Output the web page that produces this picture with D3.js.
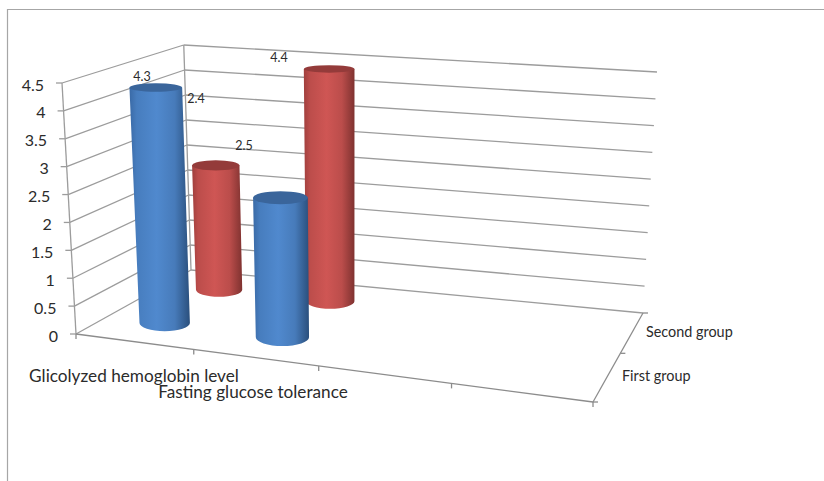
<!DOCTYPE html>
<html>
<head>
<meta charset="utf-8">
<script src="https://cdnjs.cloudflare.com/ajax/libs/d3/7.8.5/d3.min.js"></script>
<style>
  html, body { margin: 0; padding: 0; background: #fff; }
  svg { display: block; }
  text { font-family: Lato, "Open Sans", sans-serif; fill: #2b2b2b; }
</style>
</head>
<body>
<script>
var categories = ['Glicolyzed hemoglobin level', 'Fasting glucose tolerance', '', ''];
var groups = ['First group', 'Second group'];
var firstGroup = [4.3, 2.5];
var secondGroup = [2.4, 4.4];
var valueTicks = [0, 0.5, 1, 1.5, 2, 2.5, 3, 3.5, 4, 4.5];

var width = 824;
var height = 481;

// corners of the 3d box on screen: front-left, front-right, back-right, back-left
var floorQuad = [[76, 334], [593, 402], [643, 313], [191, 270]];
var topQuad = [[62, 83], [606, 135], [657, 72], [185, 45]];
// verticals all lean towards this point far under the chart
var verticalVanish = [353, 5305];
// the front edge has less perspective than the corners imply
var frontStretch = 1.107;

var xScale = d3.scaleBand().domain(d3.range(categories.length)).range([0, 1]);
var zScale = d3.scaleBand().domain(groups).range([0, 1]);
var yScale = d3.scaleLinear().domain([0, 4.5]).range([0, 1]);

function homography(q) {
  var dx1 = q[1][0] - q[2][0], dx2 = q[3][0] - q[2][0], sx = q[0][0] - q[1][0] + q[2][0] - q[3][0];
  var dy1 = q[1][1] - q[2][1], dy2 = q[3][1] - q[2][1], sy = q[0][1] - q[1][1] + q[2][1] - q[3][1];
  var den = dx1 * dy2 - dx2 * dy1;
  var g = (sx * dy2 - dx2 * sy) / den;
  var h = (dx1 * sy - sx * dy1) / den;
  return function(u, v) {
    var w = g * u + h * v + 1;
    return [
      ((q[1][0] - q[0][0] + g * q[1][0]) * u + (q[3][0] - q[0][0] + h * q[3][0]) * v + q[0][0]) / w,
      ((q[1][1] - q[0][1] + g * q[1][1]) * u + (q[3][1] - q[0][1] + h * q[3][1]) * v + q[0][1]) / w
    ];
  };
}

var floorAt = homography(floorQuad);
var topAt = homography(topQuad);

function project(u, v, value) {
  var uu = frontStretch * u / (1 + (frontStretch - 1) * u);
  var a = floorAt(uu, v);
  var b = topAt(uu, v);
  var y = a[1] + (b[1] - a[1]) * yScale(value);
  var x = verticalVanish[0] + (a[0] - verticalVanish[0]) *
    (verticalVanish[1] - y) / (verticalVanish[1] - a[1]);
  return [x, y];
}

var svg = d3.select('body').append('svg')
  .attr('width', width).attr('height', height);

// chart frame
svg.append('path')
  .attr('d', 'M7.5,481V9.5H824')
  .attr('fill', 'none').attr('stroke', '#a6a6a6').attr('stroke-width', 1.2);

var defs = svg.append('defs');
function addGradient(id, edge, mid, edge2) {
  var g = defs.append('linearGradient').attr('id', id);
  g.append('stop').attr('offset', '0%').attr('stop-color', edge);
  g.append('stop').attr('offset', '12%').attr('stop-color', d3.interpolateRgb(edge, mid)(0.6));
  g.append('stop').attr('offset', '45%').attr('stop-color', mid);
  g.append('stop').attr('offset', '75%').attr('stop-color', d3.interpolateRgb(mid, edge2)(0.25));
  g.append('stop').attr('offset', '100%').attr('stop-color', edge2);
}
addGradient('blueBar', '#3a6aa6', '#5089ce', '#2a4f7c');
addGradient('redBar', '#a03f3d', '#cf5654', '#7f3230');

function line(a, b, color) {
  svg.append('line')
    .attr('x1', a[0]).attr('y1', a[1]).attr('x2', b[0]).attr('y2', b[1])
    .attr('stroke', color || '#9c9c9c').attr('stroke-width', 1.3);
}

// walls
valueTicks.forEach(function(t) {
  var front = project(0, 0, t);
  var back = project(0, 1, t);
  var right = project(1, 1, t);
  line(front, back);
  line(back, right);
  line([front[0] - 6, front[1]], front);
  svg.append('text')
    .attr('x', front[0] - 18).attr('y', front[1] + 3.5)
    .attr('text-anchor', 'end').attr('dominant-baseline', 'middle')
    .attr('font-size', 16).text(t);
});
line(project(0, 0, 0), project(0, 0, 4.5));
line(project(0, 1, 0), project(0, 1, 4.5));

// floor edges and ticks
line(project(0, 0, 0), project(1, 0, 0), '#8c8c8c');
line(project(1, 0, 0), project(1, 1, 0), '#8c8c8c');
d3.range(categories.length + 1).forEach(function(i) {
  var p = project(i / categories.length, 0, 0);
  line(p, [p[0], p[1] + 5], '#8c8c8c');
});
d3.range(groups.length + 1).forEach(function(i) {
  var p = project(1, i / groups.length, 0);
  line(p, [p[0] + 5, p[1]], '#8c8c8c');
});

// category and group labels
var categoryLabelPos = [[134, 378], [253, 394]];
categories.slice(0, 2).forEach(function(c, i) {
  svg.append('text')
    .attr('x', categoryLabelPos[i][0]).attr('y', categoryLabelPos[i][1])
    .attr('text-anchor', 'middle').attr('dominant-baseline', 'middle')
    .attr('font-size', 17.2).text(c);
});
var groupLabelPos = [[622, 377], [646, 333]];
groups.forEach(function(g, i) {
  svg.append('text')
    .attr('x', groupLabelPos[i][0]).attr('y', groupLabelPos[i][1])
    .attr('dominant-baseline', 'middle')
    .attr('font-size', 14.4).text(g);
});

// bars, back row first
function cylinder(catIndex, group, value, fill, topFill, halfBand) {
  var u = xScale(catIndex) + xScale.bandwidth() / 2;
  var v = zScale(group) + zScale.bandwidth() / 2;
  var halfU = xScale.bandwidth() * halfBand;
  var bl = project(u - halfU, v, 0), br = project(u + halfU, v, 0);
  var tl = project(u - halfU, v, value), tr = project(u + halfU, v, value);
  var rb = (br[0] - bl[0]) / 2;
  var rt = (tr[0] - tl[0]) / 2;
  var b = project(u, v, 0), t = project(u, v, value);
  // the lower on screen the more of the ellipse shows
  var ryb = rb * (b[1] * 0.0007 + 0.1);
  var ryt = rt * (t[1] * 0.0007 + 0.1);
  svg.append('path')
    .attr('d', 'M' + (t[0] - rt) + ',' + t[1] + 'L' + (b[0] - rb) + ',' + b[1] +
      'A' + rb + ',' + ryb + ' 0 0 0 ' + (b[0] + rb) + ',' + b[1] +
      'L' + (t[0] + rt) + ',' + t[1] + 'Z')
    .attr('fill', 'url(#' + fill + ')');
  svg.append('ellipse')
    .attr('cx', t[0]).attr('cy', t[1]).attr('rx', rt).attr('ry', ryt)
    .attr('fill', topFill);
}

secondGroup.forEach(function(d, i) { cylinder(i, groups[1], d, 'redBar', '#943b3a', 0.213); });
firstGroup.forEach(function(d, i) { cylinder(i, groups[0], d, 'blueBar', '#3a659b', 0.22); });

// data labels sit where excel left them, away from the bars
var firstLabelPos = [[142, 78], [244, 147]];
var secondLabelPos = [[196, 100], [279, 59]];
function dataLabel(d, p) {
  svg.append('text')
    .attr('x', p[0]).attr('y', p[1])
    .attr('text-anchor', 'middle').attr('dominant-baseline', 'middle')
    .attr('font-size', 12.5).text(d);
}
firstGroup.forEach(function(d, i) { dataLabel(d, firstLabelPos[i]); });
secondGroup.forEach(function(d, i) { dataLabel(d, secondLabelPos[i]); });
</script>
</body>
</html>
